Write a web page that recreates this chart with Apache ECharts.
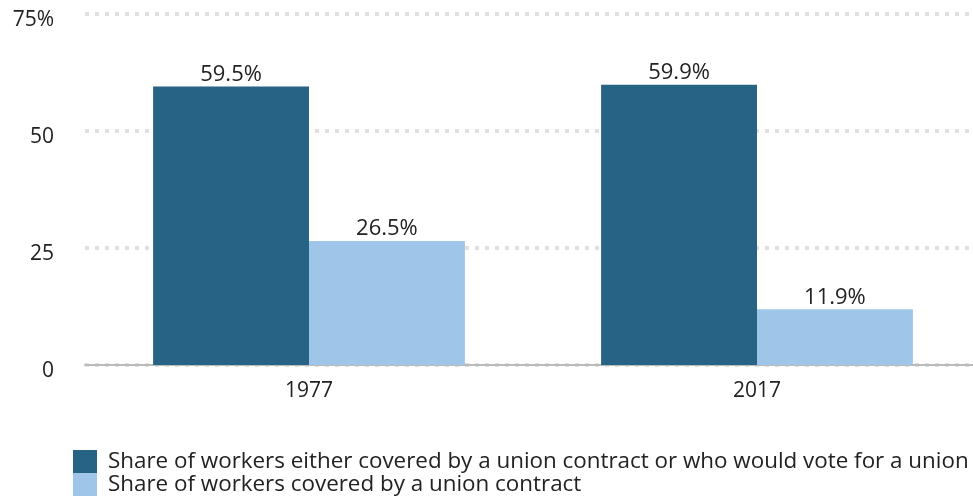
<!DOCTYPE html>
<html><head><meta charset="utf-8">
<script src="https://cdn.jsdelivr.net/npm/echarts@6/dist/echarts.min.js"></script>
<style>html,body{margin:0;padding:0;background:#fff}#c{width:973px;height:500px}</style>
</head><body><div id="c"></div>
<script>
const categories = ['1977', '2017'];
const seriesNames = ['Share of workers either covered by a union contract or who would vote for a union', 'Share of workers covered by a union contract'];
const coveredOrWouldVote = [59.5, 59.9];
const covered = [26.5, 11.9];
const yTicks = [0, 25, 50, 75];
const colors = ['#276384', '#9fc5e8'];
const FONT = 'Open Sans';

const chart = echarts.init(document.getElementById('c'));
const labelCfg = {
  show: true, position: 'top', distance: 1, color: '#222', fontSize: 22, fontFamily: FONT,
  formatter: p => p.value.toFixed(1) + '%'
};
function legendFor(i, top) {
  return {
    orient: 'vertical', left: 73, top: top, padding: 0, itemWidth: 24, itemHeight: 23, itemGap: 0,
    icon: 'rect', textStyle: { fontSize: 22.4, color: '#222', fontFamily: FONT, padding: [2, 0, 0, 6] },
    data: [seriesNames[i]]
  };
}
chart.setOption({
  animation: false,
  textStyle: { fontFamily: FONT },
  grid: { left: 85, width: 896, top: 14, bottom: 135, containLabel: false, outerBoundsMode: 'none' },
  legend: [legendFor(0, 450), legendFor(1, 473)],
  xAxis: {
    type: 'category', data: categories,
    axisLine: { lineStyle: { color: '#bbb', width: 2 } },
    axisTick: { show: false },
    axisLabel: { color: '#222', fontSize: 21, margin: 16, fontFamily: FONT }
  },
  yAxis: {
    type: 'value', min: yTicks[0], max: yTicks[yTicks.length - 1], interval: 25,
    axisLine: { show: false }, axisTick: { show: false },
    axisLabel: {
      color: '#222', fontSize: 21, margin: 31, fontFamily: FONT,
      formatter: v => '{v|' + (v === yTicks[yTicks.length - 1] ? v + '%' : String(v)) + '}',
      rich: { v: { fontSize: 21, fontFamily: FONT, color: '#222', padding: [13, 0, 0, 0] } }
    },
    splitLine: { lineStyle: { color: '#e0e0e0', width: 4, type: [4, 6] } }
  },
  series: [
    { name: seriesNames[0], type: 'bar', data: coveredOrWouldVote, itemStyle: { color: colors[0] },
      barGap: '0%', barCategoryGap: '30.4%', label: labelCfg },
    { name: seriesNames[1], type: 'bar', data: covered, itemStyle: { color: colors[1] },
      barGap: '0%', barCategoryGap: '30.4%', label: labelCfg }
  ]
});
</script></body></html>
